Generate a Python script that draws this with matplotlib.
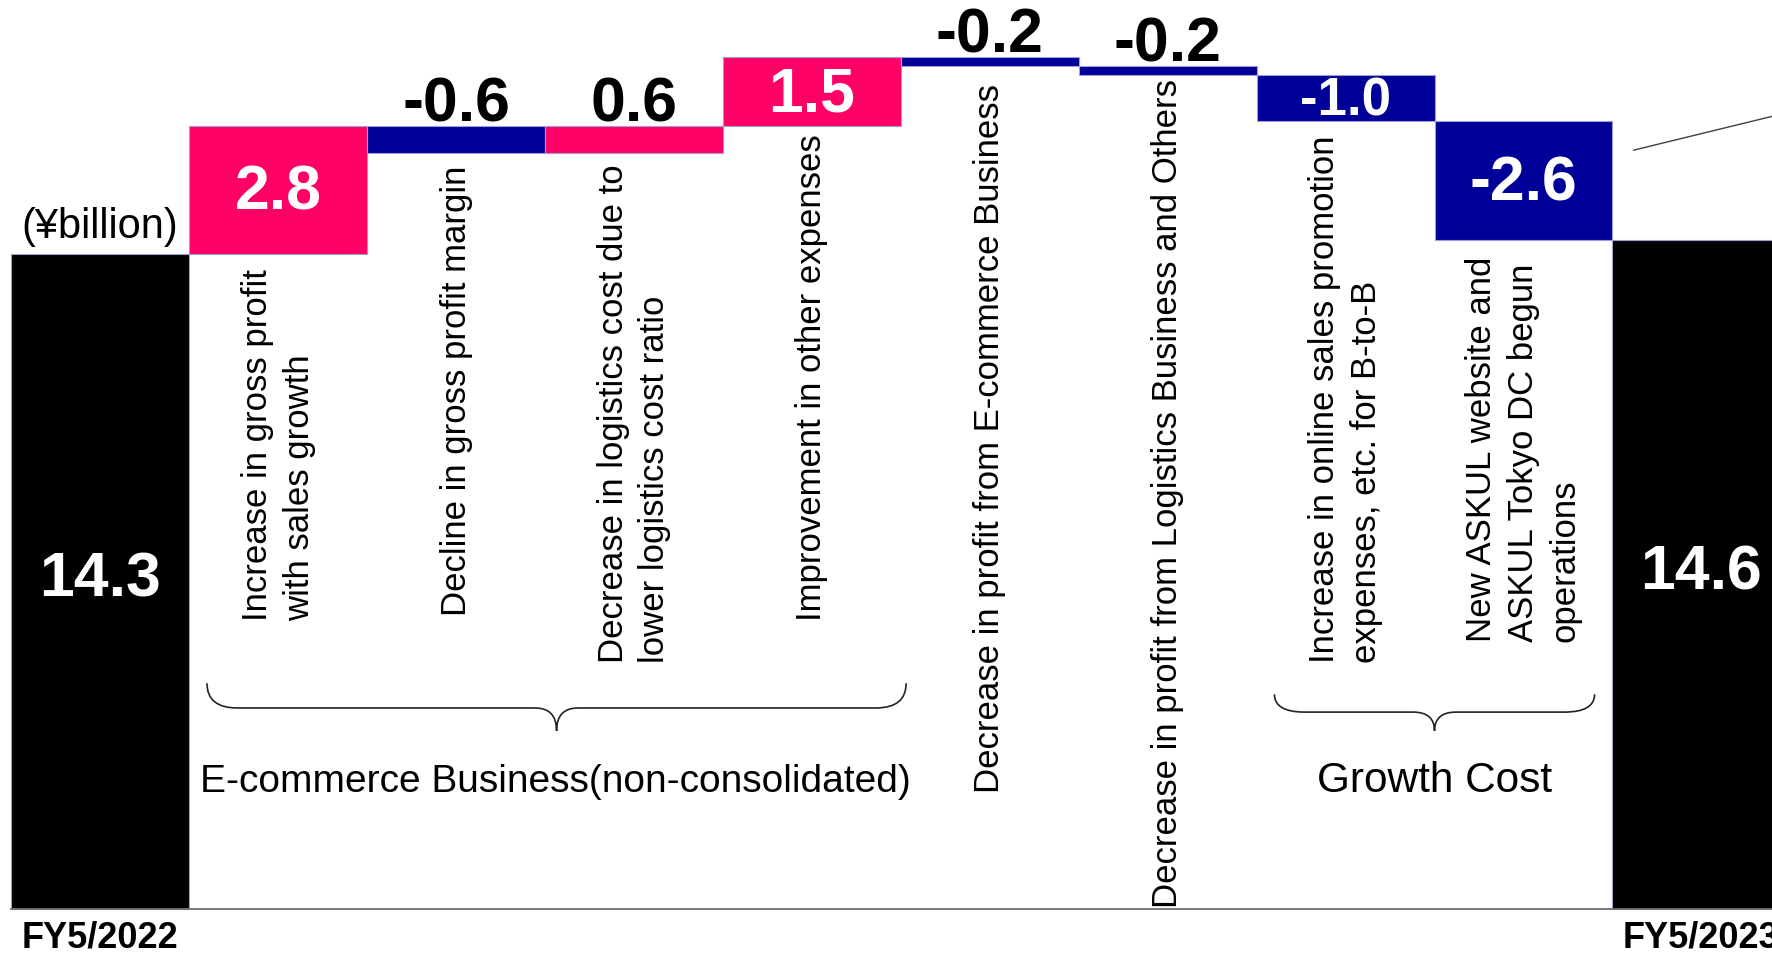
import numpy as np
import matplotlib.pyplot as plt
from matplotlib.path import Path
from matplotlib.patches import PathPatch

plt.rcParams['font.family'] = ['Liberation Sans', 'DejaVu Sans']

# operating profit bridge, ¥billion
start_total = 14.3
end_total = 14.6
changes = [2.8, -0.6, 0.6, 1.5, -0.2, -0.2, -1.0, -2.6]
change_labels = [
    "Increase in gross profit\nwith sales growth",
    "Decline in gross profit margin",
    "Decrease in logistics cost due to\nlower logistics cost ratio",
    "Improvement in other expenses",
    "Decrease in profit from E-commerce Business",
    "Decrease in profit from Logistics Business and Others",
    "Increase in online sales promotion\nexpenses, etc. for B-to-B",
    "New ASKUL website and\nASKUL Tokyo DC begun\noperations",
]
period_labels = ["FY5/2022", "FY5/2023"]
group_names = ["E-commerce Business(non-consolidated)", "Growth Cost"]

# where each rotated description starts (data units)
label_y = [6.31, 6.42, 5.39, 6.31, 2.55, 0.05, 5.39, 5.85]

PINK = '#FF0066'
NAVY = '#000099'
EDGE = '#a0a0d0'

fig = plt.figure(figsize=(17.72, 9.54), dpi=100)
ax = fig.add_axes([0, 0, 1, 1])
ax.set_xlim(-0.5635, 9.397)
ax.set_ylim(-0.96, 19.87)
ax.axis('off')

# waterfall bars
n = len(changes)
cum = start_total + np.concatenate([[0], np.cumsum(changes)])
bottoms = np.minimum(cum[:-1], cum[1:])
heights = np.abs(changes)
colors = [PINK if v > 0 else NAVY for v in changes]

ax.bar([0, n + 1], [start_total, end_total], width=1.0, color='black',
       edgecolor=EDGE, linewidth=0.8, zorder=2)
ax.bar(np.arange(1, n + 1), heights, bottom=bottoms, width=1.0, color=colors,
       edgecolor=EDGE, linewidth=0.8, zorder=2)
ax.plot([-0.5, 9.4], [0, 0], color='#707070', lw=1.3, zorder=3)

# value labels
for i, v in enumerate(changes):
    x = i + 1
    txt = f"{v:.1f}"
    if abs(v) >= 1.0:
        fs = 45 if abs(v) > 1.2 else 38
        ax.text(x, bottoms[i] + heights[i] / 2 - 0.05, txt, color='white', fontsize=fs,
                fontweight='bold', ha='center', va='center', zorder=4)
    else:
        ax.text(x, bottoms[i] + heights[i] + 0.12, txt, color='black', fontsize=45,
                fontweight='bold', ha='center', va='baseline', zorder=4)

for x, v in zip([0, n + 1], [start_total, end_total]):
    ax.text(x, v / 2 + 0.05, f"{v:.1f}", color='white', fontsize=45,
            fontweight='bold', ha='center', va='center', zorder=4)

# rotated descriptions
for i, (lab, yb) in enumerate(zip(change_labels, label_y)):
    lines = lab.split("\n")
    k = len(lines)
    for j, line in enumerate(lines):
        ax.text(i + 1 + (j - (k - 1) / 2) * 0.235, yb, line, rotation=90,
                ha='center', va='bottom', fontsize=25, zorder=4)


def brace(x0, x1, y_top, y_line, y_tip, r_end=0.17, r_tip=0.12):
    xm = (x0 + x1) / 2
    verts = [(x0, y_top), (x0, y_line), (x0 + r_end, y_line),
             (xm - r_tip, y_line), (xm, y_line), (xm, y_tip),
             (xm, y_line), (xm + r_tip, y_line),
             (x1 - r_end, y_line), (x1, y_line), (x1, y_top)]
    codes = [Path.MOVETO, Path.CURVE3, Path.CURVE3,
             Path.LINETO, Path.CURVE3, Path.CURVE3,
             Path.CURVE3, Path.CURVE3,
             Path.LINETO, Path.CURVE3, Path.CURVE3]
    ax.add_patch(PathPatch(Path(verts, codes), fill=False, lw=1.2,
                           edgecolor='#222222', zorder=4))
    return xm


# group braces and names
brace(0.60, 4.53, 4.93, 4.39, 3.89)
ax.text(2.56, 2.80, group_names[0], fontsize=28, ha='center', va='center')
brace(6.60, 8.40, 4.69, 4.30, 3.89)
ax.text(7.50, 2.82, group_names[1], fontsize=30.5, ha='center', va='center')

# axis captions
ax.text(0, 14.92, "(¥billion)", fontsize=30, ha='center', va='center')
for x, lab in zip([0, n + 1], period_labels):
    ax.text(x, -0.60, lab, fontsize=26, fontweight='bold', ha='center', va='center')

# leader line running off to the right
ax.plot([8.62, 9.40], [16.57, 17.31], color='#404040', lw=1.0, zorder=4)

fig.savefig('out.png', dpi=100)
